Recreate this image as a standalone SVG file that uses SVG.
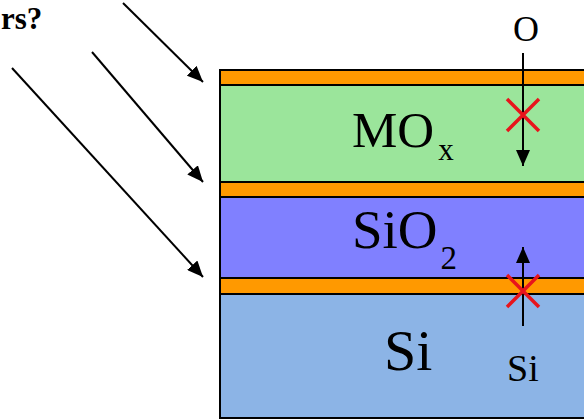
<svg xmlns="http://www.w3.org/2000/svg" width="584" height="420" viewBox="0 0 584 420">
<defs>
<style>
.layer{stroke:#000;stroke-width:2}
.orange{fill:#FF9900}
.t{font-family:"Liberation Serif","Times New Roman",serif;fill:#000}
.conn{stroke:#000;stroke-width:2;fill:none}
.cross{stroke:#E8141C;stroke-width:3.5;fill:none}
</style>
<marker id="ah" markerUnits="userSpaceOnUse" markerWidth="16" markerHeight="14" refX="16" refY="7" orient="auto" viewBox="0 0 16 14">
<path d="M0,0 L16,7 L0,14 z" fill="#000"/>
</marker>
</defs>
<rect width="584" height="420" fill="#fff"/>
<g id="layer-si">
<rect class="layer" x="220" y="294" width="380" height="124" fill="#8CB4E6"/>
<text class="t" x="384" y="370" font-size="58">Si</text>
</g>
<g id="interface-bottom">
<rect class="layer orange" x="220" y="278" width="380" height="16"/>
</g>
<g id="layer-sio2">
<rect class="layer" x="220" y="197" width="380" height="81" fill="#8080FF"/>
<text class="t" x="352" y="248" font-size="55">SiO<tspan font-size="33" dx="3" dy="21">2</tspan></text>
</g>
<g id="interface-middle">
<rect class="layer orange" x="220" y="182" width="380" height="15"/>
</g>
<g id="layer-mox">
<rect class="layer" x="220" y="85" width="380" height="97" fill="#9BE59B"/>
<text class="t" x="352" y="147" font-size="51">MO<tspan font-size="31" dx="4" dy="13">x</tspan></text>
</g>
<g id="interface-top">
<rect class="layer orange" x="220" y="70" width="380" height="15"/>
</g>
<g id="label-o">
<text class="t" x="526" y="41" font-size="36" text-anchor="middle">O</text>
</g>
<g id="label-si">
<text class="t" x="507" y="381" font-size="38">Si</text>
</g>
<g id="label-question">
<text class="t" x="1" y="29" font-size="31" font-weight="bold">rs?</text>
</g>
<g id="connectors">
<line class="conn" x1="123" y1="3" x2="203" y2="82" marker-end="url(#ah)"/>
<line class="conn" x1="92" y1="52" x2="203" y2="182" marker-end="url(#ah)"/>
<line class="conn" x1="12" y1="68" x2="203" y2="277" marker-end="url(#ah)"/>
<line class="conn" x1="523" y1="53" x2="523" y2="166" marker-end="url(#ah)"/>
<line class="conn" x1="523" y1="326" x2="523" y2="247" marker-end="url(#ah)"/>
</g>
<g id="blocked-marks">
<path class="cross" d="M507,99 L539,131 M539,99 L507,131"/>
<path class="cross" d="M507,275 L539,307 M539,275 L507,307"/>
</g>
</svg>
